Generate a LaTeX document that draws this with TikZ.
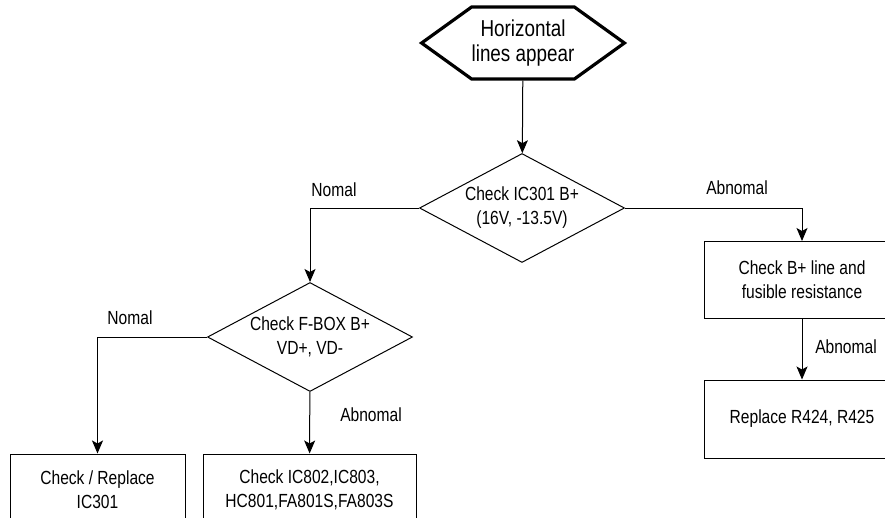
\documentclass[tikz,border=0pt]{standalone}
\usepackage{fontspec}
\setmainfont{Liberation Sans}[FakeStretch=0.82]
\usetikzlibrary{shapes.geometric,shapes.symbols,arrows.meta}

\begin{document}
\begin{tikzpicture}[x=1pt,y=-1pt]
%style for start node
\tikzstyle{startnode} = [signal, signal to=west and east, signal pointer angle=71.5, draw=black, line width=3.2pt, minimum width=101pt, minimum height=72pt, inner xsep=0pt, inner ysep=12.5pt, align=center, font=\fontsize{23}{25}\selectfont]

%style for check node
\tikzstyle{checknode} = [diamond, draw=black, line width=1pt, aspect=1.88, minimum width=205pt, minimum height=109pt, inner sep=0pt, align=center, font=\fontsize{19}{24}\selectfont]

%style for action box
\tikzstyle{actbox} = [rectangle, draw=black, line width=1pt, minimum height=77pt, inner sep=0pt, align=center, font=\fontsize{19}{24}\selectfont]

%style for branch label
\tikzstyle{blabel} = [font=\fontsize{19}{24}\selectfont, inner sep=0pt]

%style for connectors
\tikzstyle{flow} = [line width=1pt, -{Stealth[length=13pt,width=11pt,inset=3pt]}]

\useasboundingbox (0,0) rectangle (885,517);
\clip (0,0) rectangle (885,517);

%place nodes
\node[startnode](start) at (523,43) {Horizontal\\lines appear};
\node[checknode](checkB) at (522,208) {Check IC301 B+\\(16V, -13.5V)};
\node[checknode](checkF) at (310,337) {Check F-BOX B+\\VD+, VD-};
\node[actbox, minimum width=196pt](lineBox) at (802,280) {Check B+ line and\\fusible resistance};
\node[actbox, minimum width=196pt, minimum height=78pt](replaceR) at (802,419) {Replace R424, R425};
\node[actbox, minimum width=175pt, minimum height=72pt](replaceIC) at (97.5,490) {Check / Replace\\IC301};
\node[actbox, minimum width=213pt, minimum height=72pt](checkIC) at (309.5,490) {Check IC802,IC803,\\HC801,FA801S,FA803S};

%branch labels
\node[blabel](nomalB) at (334,190) {Nomal};
\node[blabel](abnomalB) at (737,188) {Abnomal};
\node[blabel](abnomalL) at (846,347) {Abnomal};
\node[blabel](nomalF) at (130,318) {Nomal};
\node[blabel](abnomalF) at (371,415) {Abnomal};

%connect nodes with lines
\draw[flow] (start) -- (checkB);
\draw[flow] (checkB.west) -| (checkF.north);
\draw[flow] (checkB.east) -| (lineBox.north);
\draw[flow] (lineBox) -- (replaceR);
\draw[flow] (checkF.west) -| (replaceIC.north);
\draw[flow] (checkF) -- (checkIC);
\end{tikzpicture}
\end{document}
